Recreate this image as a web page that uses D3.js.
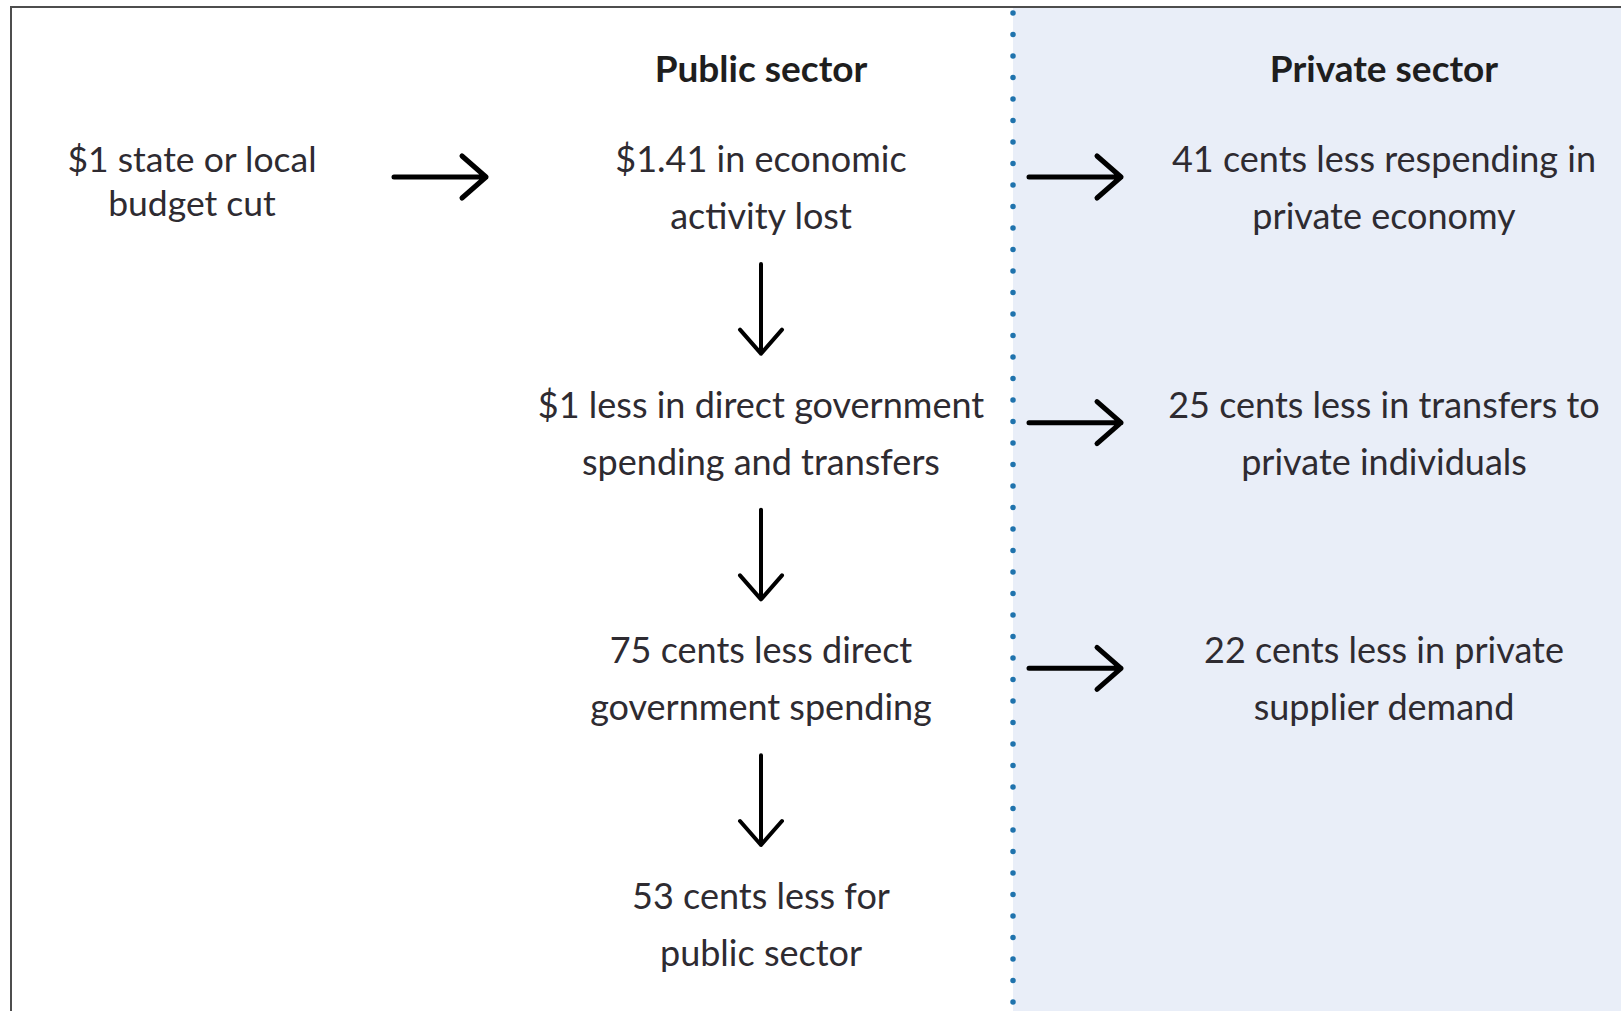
<!DOCTYPE html>
<html>
<head>
<meta charset="utf-8">
<script src="https://cdn.jsdelivr.net/npm/d3@7.9.0/dist/d3.min.js"></script>
<style>
  html, body { margin: 0; padding: 0; background: #fff; }
  svg { display: block; }
</style>
</head>
<body>
<svg id="chart" width="1621" height="1011"></svg>
<script>
// column headers
const headers = [
  { col: 'public', text: 'Public sector' },
  { col: 'private', text: 'Private sector' },
];

// boxes of text: column, row, lines
const nodes = [
  { id: 'cut', col: 'start', row: 0, lines: ['$1 state or local', 'budget cut'] },
  { id: 'lost', col: 'public', row: 0, lines: ['$1.41 in economic', 'activity lost'] },
  { id: 'direct', col: 'public', row: 1, lines: ['$1 less in direct government', 'spending and transfers'] },
  { id: 'spend', col: 'public', row: 2, lines: ['75 cents less direct', 'government spending'] },
  { id: 'public', col: 'public', row: 3, lines: ['53 cents less for', 'public sector'] },
  { id: 'respend', col: 'private', row: 0, lines: ['41 cents less respending in', 'private economy'] },
  { id: 'transfers', col: 'private', row: 1, lines: ['25 cents less in transfers to', 'private individuals'] },
  { id: 'supplier', col: 'private', row: 2, lines: ['22 cents less in private', 'supplier demand'] },
];

// flows between boxes
const flows = [
  ['cut', 'lost'],
  ['lost', 'direct'],
  ['direct', 'spend'],
  ['spend', 'public'],
  ['lost', 'respend'],
  ['direct', 'transfers'],
  ['spend', 'supplier'],
];

const width = 1621, height = 1011;
const svg = d3.select('#chart');

const x = d3.scaleOrdinal()
  .domain(['start', 'public', 'private'])
  .range([192, 761, 1384]);

// baseline of the first text line in each row
const y = d3.scaleLinear().domain([0, 3]).range([172, 909]);

const divider = 1013;

// shaded private side
svg.append('rect')
  .attr('x', divider).attr('y', 7)
  .attr('width', width - divider).attr('height', height)
  .attr('fill', '#e9eef8');

// frame (runs off the right and bottom edge)
svg.append('rect')
  .attr('x', 11).attr('y', 7)
  .attr('width', width + 20).attr('height', height + 20)
  .attr('fill', 'none')
  .attr('stroke', '#4d4d4d')
  .attr('stroke-width', 2);

// dotted divider
svg.append('line')
  .attr('x1', divider).attr('x2', divider)
  .attr('y1', 13).attr('y2', height)
  .attr('stroke', '#1f73ad')
  .attr('stroke-width', 5.5)
  .attr('stroke-linecap', 'round')
  .attr('stroke-dasharray', '0 21.5');

const font = 'Lato, "Noto Sans", sans-serif';

svg.selectAll('text.header')
  .data(headers)
  .join('text')
  .attr('class', 'header')
  .attr('x', d => x(d.col))
  .attr('y', 82)
  .attr('text-anchor', 'middle')
  .attr('font-family', font)
  .attr('font-weight', 'bold')
  .attr('font-size', 37)
  .attr('fill', '#1e1e1e')
  .text(d => d.text);

const byId = new Map(nodes.map(d => [d.id, d]));

const labels = svg.selectAll('text.node')
  .data(nodes)
  .join('text')
  .attr('class', 'node')
  .attr('text-anchor', 'middle')
  .attr('font-family', font)
  .attr('font-size', d => d.col === 'start' ? 35.5 : 36)
  .attr('fill', '#2e2b31');

labels.selectAll('tspan')
  .data(d => d.lines.map((line, i) => ({ line, i, d })))
  .join('tspan')
  .attr('x', t => x(t.d.col))
  .attr('y', t => y(t.d.row) + t.i * (t.d.col === 'start' ? 44 : 57))
  .text(t => t.line);

// arrows
const arrowG = svg.append('g')
  .attr('fill', 'none')
  .attr('stroke', '#000')
  .attr('stroke-linecap', 'round')
  .attr('stroke-linejoin', 'round');

function arrowPath(a, b) {
  if (a.col === b.col) {
    // vertical arrow below the first box
    const cx = x(a.col);
    const y1 = y(a.row) + 92, y2 = y(b.row) - 64;
    return `M${cx},${y1}V${y2}M${cx - 21},${y2 - 24}L${cx},${y2}L${cx + 21},${y2 - 24}`;
  }
  const cy = y(a.row) + 5;
  const x1 = a.col === 'start' ? 394 : divider + 16;
  const x2 = x1 + 92;
  return `M${x1},${cy}H${x2}M${x2 - 24},${cy - 21}L${x2},${cy}L${x2 - 24},${cy + 21}`;
}

arrowG.selectAll('path')
  .data(flows)
  .join('path')
  .attr('stroke-width', f => byId.get(f[0]).col === byId.get(f[1]).col ? 4 : 5)
  .attr('d', f => arrowPath(byId.get(f[0]), byId.get(f[1])));
</script>
</body>
</html>
